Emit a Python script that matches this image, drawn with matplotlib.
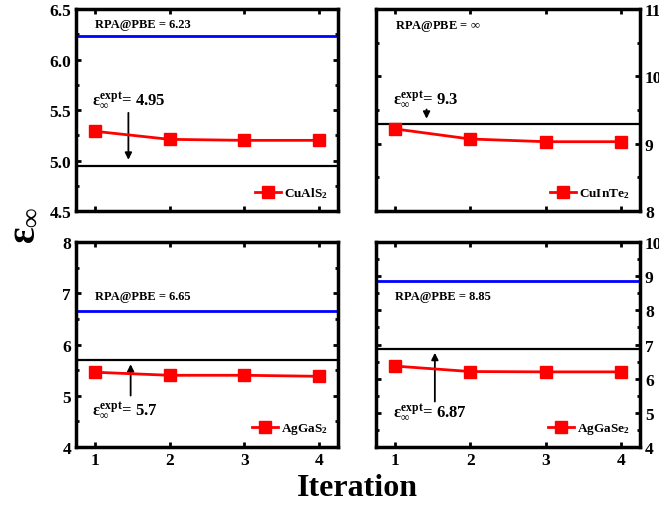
import matplotlib
matplotlib.use("Agg")
import matplotlib.pyplot as plt
from matplotlib.ticker import MultipleLocator, FormatStrFormatter

plt.rcParams["font.family"] = ["Liberation Serif", "DejaVu Serif"]
plt.rcParams["font.weight"] = "bold"
plt.rcParams["mathtext.fontset"] = "custom"
plt.rcParams["mathtext.rm"] = "Liberation Serif:bold"
plt.rcParams["mathtext.it"] = "Liberation Serif:bold"
plt.rcParams["mathtext.bf"] = "Liberation Serif:bold"

iterations = [1, 2, 3, 4]

# one entry per material
materials = ["CuAlS$_2$", "CuInTe$_2$", "AgGaS$_2$", "AgGaSe$_2$"]
eps_values = [
	[5.29, 5.21, 5.20, 5.20],
	[9.22, 9.07, 9.03, 9.03],
	[5.46, 5.40, 5.40, 5.38],
	[6.37, 6.21, 6.20, 6.20],
]
rpa_values = [6.23, None, 6.65, 8.85]
rpa_labels = ["6.23", r"$\infty$", "6.65", "8.85"]
expt_values = [4.95, 9.3, 5.7, 6.87]
expt_labels = ["4.95", "9.3", "5.7", "6.87"]
ylims = [(4.5, 6.5), (8, 11), (4, 8), (4, 10)]
ymajor = [0.5, 1, 1, 1]
yminor = [0.25, 0.5, 0.5, 0.5]

# axes boxes in figure fraction: left, bottom, width, height
boxes = [
	[0.1153, 0.581, 0.3976, 0.399],
	[0.5706, 0.581, 0.4006, 0.399],
	[0.1153, 0.1146, 0.3976, 0.405],
	[0.5706, 0.1146, 0.4006, 0.405],
]
rpa_text_y = [6.35, 10.76, 6.95, 8.42]
expt_text_pos = [(0.97, 5.6), (0.97, 9.66), (0.97, 4.72), (0.97, 5.03)]
arrow_x = [1.45, 1.42, 1.48, 1.53]
arrow_from = [5.5, 9.55, 4.95, 5.25]

fig = plt.figure(figsize=(6.59, 5.06), dpi=100)

for i in range(4):
	ax = fig.add_axes(boxes[i])
	ax.plot(iterations, eps_values[i], color="red", lw=2, marker="s", ms=8,
		label=materials[i], zorder=5)
	if rpa_values[i] is not None:
		ax.axhline(rpa_values[i], color="blue", lw=2)
	ax.axhline(expt_values[i], color="black", lw=1.6)
	ax.text(1.0, rpa_text_y[i], "RPA@PBE = " + rpa_labels[i], fontsize=9,
		fontweight="bold", va="center", ha="left")
	tx, ty = expt_text_pos[i]
	ax.text(tx, ty, r"$\varepsilon_{\infty}^{\rm expt}$= " + expt_labels[i],
		fontsize=12, va="center", ha="left")
	ax.annotate("", xy=(arrow_x[i], expt_values[i] + (0.03 if i < 2 else -0.03)),
		xytext=(arrow_x[i], arrow_from[i]),
		arrowprops=dict(arrowstyle="-|>", color="black", lw=1.3, mutation_scale=10))

	ax.set_xlim(0.75, 4.25)
	ax.set_ylim(*ylims[i])
	ax.xaxis.set_major_locator(MultipleLocator(1))
	ax.yaxis.set_major_locator(MultipleLocator(ymajor[i]))
	ax.yaxis.set_minor_locator(MultipleLocator(yminor[i]))
	ax.tick_params(which="both", direction="in", top=True, right=True,
		width=2, labelsize=12.5)
	ax.tick_params(which="major", length=3.5)
	ax.tick_params(which="minor", length=2.5)
	for s in ax.spines.values():
		s.set_linewidth(2.5)

	if i < 2:
		ax.tick_params(labelbottom=False)
	if i in (1, 3):
		ax.tick_params(labelleft=False, labelright=True)
	if i == 0:
		ax.yaxis.set_major_formatter(FormatStrFormatter("%.1f"))
	for lab in ax.get_xticklabels() + ax.get_yticklabels():
		lab.set_fontweight("bold")

	leg = ax.legend(loc="lower right", frameon=False, fontsize=9.5, handlelength=2.0,
		handletextpad=0.2, borderaxespad=0.4)
	for t in leg.get_texts():
		t.set_fontweight("bold")

fig.text(0.035, 0.555, r"$\varepsilon_{\infty}$", rotation=90, fontsize=28,
	va="center", ha="center")
fig.text(0.542, 0.035, "Iteration", fontsize=23, fontweight="bold",
	ha="center", va="center")

fig.savefig("out.png", dpi=100)
